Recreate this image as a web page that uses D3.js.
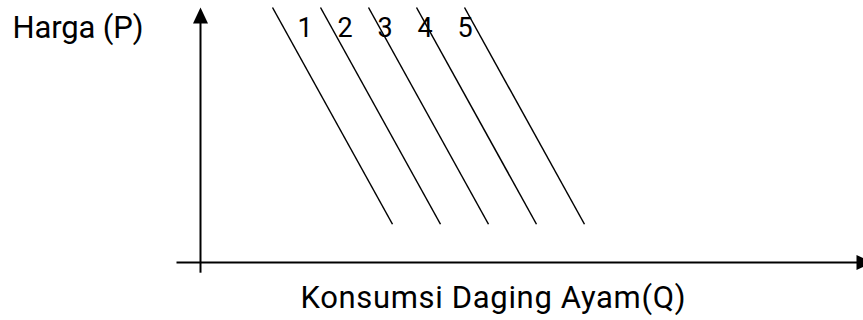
<!DOCTYPE html>
<html>
<head>
<meta charset="utf-8">
<script src="https://cdn.jsdelivr.net/npm/d3@7"></script>
<style>
  html, body { margin: 0; padding: 0; background: #fff; }
  svg { display: block; }
  text { font-family: Roboto, "Noto Sans", sans-serif; fill: #000; }
</style>
</head>
<body>
<svg id="chart" width="863" height="320"></svg>
<script>
// //////// DATA

// Demand curves, labelled 1..5 (shift to the right)
const curveLabels = ["1", "2", "3", "4", "5"];
// Q where each curve starts (at the top) and ends (at the bottom)
const topQ = [1.5, 2.5, 3.5, 4.5, 5.5];
const bottomQ = [4, 5, 6, 7, 8];
// P at the top and bottom of every curve
const topP = [10, 10, 10, 10, 10];
const bottomP = [1.5, 1.5, 1.5, 1.5, 1.5];

const yLabel = "Harga (P)";
const xLabel = "Konsumsi Daging Ayam(Q)";

// //////// SCALES

const svg = d3.select("#chart");

// 1 unit of Q = 48px, 1 unit of P = 25.5px
const x = d3.scaleLinear().domain([0, 14]).range([200.5, 872.5]);
const y = d3.scaleLinear().domain([0, 10]).range([262.5, 7.5]);

// //////// AXES

// Arrow head for the y axis (pointing up)
const arrowUp = d3.path();
arrowUp.moveTo(x(0), y(10));
arrowUp.lineTo(x(0) - 7.5, y(10) + 16);
arrowUp.lineTo(x(0) + 7.5, y(10) + 16);
arrowUp.closePath();

svg.append("line")
  .attr("x1", x(0))
  .attr("x2", x(0))
  .attr("y1", y(-0.4))
  .attr("y2", y(10) + 14)
  .attr("stroke", "#000")
  .attr("stroke-width", 2);

svg.append("path").attr("d", arrowUp.toString()).attr("fill", "#000");

// x axis, arrow runs off the right edge
const arrowRight = d3.path();
arrowRight.moveTo(x(14), y(0));
arrowRight.lineTo(x(14) - 16, y(0) - 7.5);
arrowRight.lineTo(x(14) - 16, y(0) + 7.5);
arrowRight.closePath();

svg.append("line")
  .attr("x1", x(-0.5))
  .attr("x2", x(14) - 14)
  .attr("y1", y(0))
  .attr("y2", y(0))
  .attr("stroke", "#000")
  .attr("stroke-width", 2);

svg.append("path").attr("d", arrowRight.toString()).attr("fill", "#000");

// //////// CURVES

svg.append("g")
  .selectAll("line")
  .data(curveLabels)
  .join("line")
  .attr("x1", (d, i) => x(topQ[i]))
  .attr("y1", (d, i) => y(topP[i]))
  .attr("x2", (d, i) => x(bottomQ[i]))
  .attr("y2", (d, i) => y(bottomP[i]))
  .attr("stroke", "#000")
  .attr("stroke-width", 1.5);

// Curve numbers sit a bit tighter than the curves themselves
svg.append("g")
  .attr("text-anchor", "middle")
  .attr("font-size", 27)
  .selectAll("text")
  .data(curveLabels)
  .join("text")
  .attr("x", (d, i) => 305 + i * 40)
  .attr("y", 37)
  .text((d) => d);

// //////// LABELS

svg.append("text")
  .attr("x", 12.5)
  .attr("y", 37.5)
  .attr("font-size", 31)
  .attr("textLength", 131)
  .text(yLabel);

svg.append("text")
  .attr("x", 300.5)
  .attr("y", 307.5)
  .attr("font-size", 31)
  .attr("textLength", 385)
  .text(xLabel);
</script>
</body>
</html>
